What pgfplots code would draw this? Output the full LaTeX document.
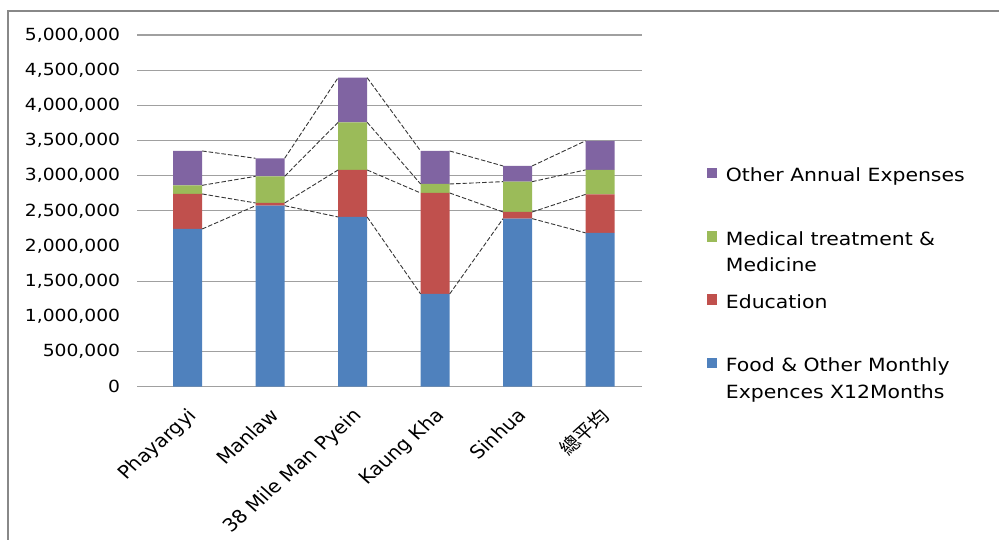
\documentclass[border=0pt]{standalone}
\usepackage{pgfplots}
\pgfplotsset{compat=1.18}
\usepackage{pgfplotstable}
\usepackage{fontspec}
\setmainfont{DejaVu Sans}[FakeStretch=1.12]
\newfontfamily\xlabfont{DejaVu Sans}
\newfontfamily\cjk{Noto Sans CJK TC}
\definecolor{cBlue}{RGB}{79,129,189}
\definecolor{cRed}{RGB}{192,80,77}
\definecolor{cGreen}{RGB}{155,187,89}
\definecolor{cPurple}{RGB}{128,100,162}
\definecolor{gridgray}{RGB}{160,160,160}
\definecolor{framegray}{RGB}{136,136,136}
\definecolor{linegray}{RGB}{55,55,55}

\pgfplotsset{
  sqlegend/.style={legend image code/.code={\fill[##1] (0bp,3.5bp) rectangle (10.5bp,14bp);}},
  sline/.style={linegray, line width=0.9bp, dash pattern=on 4.5bp off 2bp, mark=none},
}

% segment values
\pgfplotstableread{
x food edu med other
0 2242000 498000 123000 488000
1 2573000 39000 379000 256000
2 2413000 668000 678000 634000
3 1318000 1436000 128000 469000
4 2389000 95000 431000 223000
5 2187000 547000 348000 414000
}\datatable

\newcommand{\legtext}[2]{\rule[-44.4bp]{0pt}{63.3bp}\begin{tabular}[t]{@{}l@{}}#1\\#2\end{tabular}}
\newcommand{\tickfont}{\fontsize{16.7bp}{20bp}\selectfont}
\newcommand{\xfont}{\xlabfont\fontsize{18.2bp}{22bp}\selectfont}

\begin{document}
\begin{tikzpicture}
\useasboundingbox (0,0) rectangle (999bp,540bp);
\draw[framegray, line width=2bp] (8.3bp,-3bp) -- (8.3bp,529bp) -- (1002bp,529bp);
\begin{axis}[
  at={(137.3bp,153.3bp)}, anchor=south west,
  scale only axis, width=504.9bp, height=351.7bp,
  xmin=-0.61, xmax=5.51, ymin=0, ymax=5000000,
  enlargelimits=false,
  ybar stacked, bar width=29bp,
  axis x line*=bottom, axis y line*=left,
  axis line style={draw=none},
  xtick={0,...,5},
  xticklabels={Phayargyi, Manlaw, 38 Mile Man Pyein, Kaung Kha, Sinhua, {\cjk 總平均}},
  xtick style={draw=none}, ytick style={draw=none},
  ytick={0,500000,...,5000000},
  scaled y ticks=false,
  yticklabel style={/pgf/number format/fixed, /pgf/number format/1000 sep={,}, /pgf/number format/assume math mode=true, font=\tickfont, inner sep=0pt, anchor=east, xshift=-17bp},
  xticklabel style={font=\xfont, inner sep=0pt, anchor=north east, xshift=-1bp, yshift=-20bp, cm={0.792,0.707,-0.792,0.707,(0,0)}},
  ymajorgrids=false,
  major grid style={gridgray, line width=1.2bp},
  extra y ticks={0,500000,1500000,2500000,3000000,3500000,4000000,4500000,5000000},
  extra y tick labels={},
  extra y tick style={grid=major, tick style={draw=none}},
  reverse legend,
  legend style={at={(axis description cs:1.1278,0.6366)}, anchor=north west, draw=none, fill=none, inner sep=0pt, outer sep=0pt, row sep=0pt, /tikz/column sep=8.7bp, font=\fontsize{18.2bp}{26.5bp}\selectfont, cells={anchor=base west}, nodes={inner sep=0pt, text depth=}},
]
\addplot[fill=cBlue, draw=none, sqlegend] table[x=x, y=food]{\datatable};
\addlegendentry{\legtext{Food \& Other Monthly}{Expences X12Months}}
\addplot[fill=cRed, draw=none, sqlegend] table[x=x, y=edu]{\datatable};
\addlegendentry{\legtext{Education}{}}
\addplot[fill=cGreen, draw=none, sqlegend] table[x=x, y=med]{\datatable};
\addlegendentry{\legtext{Medical treatment \&}{Medicine}}
\addplot[fill=cPurple, draw=none, sqlegend] table[x=x, y=other]{\datatable};
\addlegendentry{\legtext{Other Annual Expenses}{}}
\end{axis}
% series lines joining the segment tops (cumulative values)
\begin{axis}[
  at={(137.3bp,153.3bp)}, anchor=south west,
  scale only axis, width=504.9bp, height=351.7bp,
  xmin=-0.61, xmax=5.51, ymin=0, ymax=5000000,
  hide axis, unbounded coords=jump,
]
\addplot[sline] coordinates {(0.176,2242000) (0.824,2573000) (1,nan) (1.176,2573000) (1.824,2413000) (2,nan) (2.176,2413000) (2.824,1318000) (3,nan) (3.176,1318000) (3.824,2389000) (4,nan) (4.176,2389000) (4.824,2187000)};
\addplot[sline] coordinates {(0.176,2740000) (0.824,2612000) (1,nan) (1.176,2612000) (1.824,3081000) (2,nan) (2.176,3081000) (2.824,2754000) (3,nan) (3.176,2754000) (3.824,2484000) (4,nan) (4.176,2484000) (4.824,2734000)};
\addplot[sline] coordinates {(0.176,2863000) (0.824,2991000) (1,nan) (1.176,2991000) (1.824,3759000) (2,nan) (2.176,3759000) (2.824,2882000) (3,nan) (3.176,2882000) (3.824,2915000) (4,nan) (4.176,2915000) (4.824,3082000)};
\addplot[sline] coordinates {(0.176,3351000) (0.824,3247000) (1,nan) (1.176,3247000) (1.824,4393000) (2,nan) (2.176,4393000) (2.824,3351000) (3,nan) (3.176,3351000) (3.824,3138000) (4,nan) (4.176,3138000) (4.824,3496000)};
\end{axis}
\end{tikzpicture}
\end{document}
